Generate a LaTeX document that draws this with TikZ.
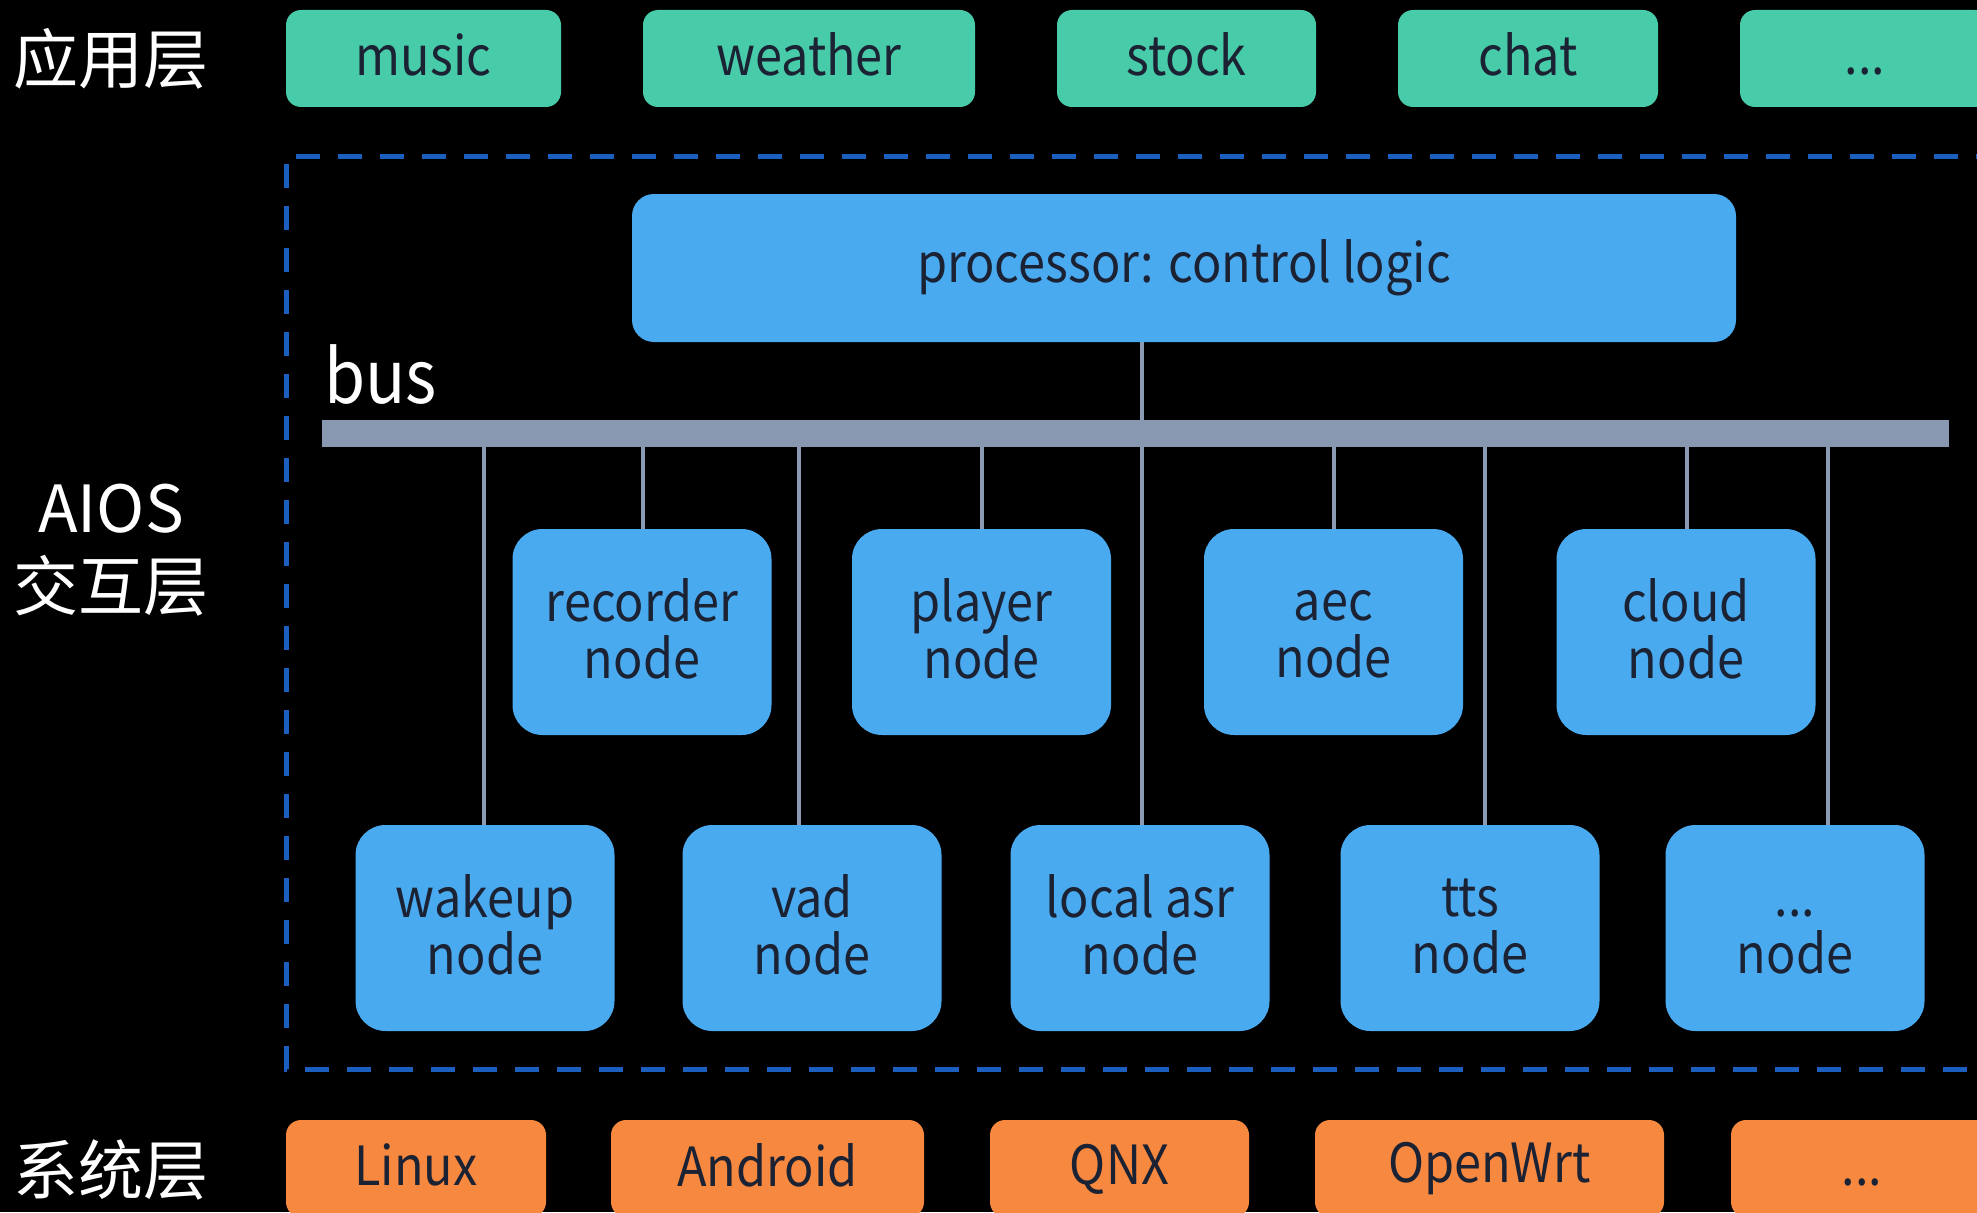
\documentclass[tikz,border=0pt]{standalone}
\usepackage{fontspec}
\setmainfont{Noto Sans CJK SC}
\newfontfamily\latinfont[FakeStretch=0.9]{Noto Sans CJK SC}
\definecolor{appgreen}{HTML}{48CBA8}
\definecolor{nodeblue}{HTML}{4AAAF0}
\definecolor{sysorange}{HTML}{F78840}
\definecolor{txtdark}{HTML}{1B2233}
\definecolor{busgray}{HTML}{8798B0}
\definecolor{linkgray}{HTML}{8B9BB3}
\definecolor{dashblue}{HTML}{1A5FBE}
\newcommand{\bxline}[1]{\rule[-8pt]{0pt}{49pt}#1}
\tikzset{
  x=1pt, y=-1pt,
  boxtext/.style={text=txtdark, font=\latinfont\fontsize{54}{57}\selectfont, align=center, inner sep=0pt},
  appbox/.style={boxtext, fill=appgreen, rounded corners=15pt, minimum height=97pt},
  sysbox/.style={boxtext, fill=sysorange, rounded corners=15pt, minimum height=97pt},
  procbox/.style={boxtext, fill=nodeblue, rounded corners=22pt, minimum height=148pt, minimum width=1104pt},
  modbox/.style={boxtext, fill=nodeblue, rounded corners=30pt, minimum height=206pt, minimum width=259pt},
  layerlabel/.style={text=white, font=\fontsize{65}{78}\selectfont, align=center, inner sep=0pt},
  link/.style={draw=linkgray, line width=4pt},
  frame/.style={draw=dashblue, line width=5pt, dash pattern=on 24pt off 18pt}
}
\begin{document}
\begin{tikzpicture}
\useasboundingbox (0,0) rectangle (1977,1212);
\fill[black] (0,0) rectangle (1977,1212);
\clip (0,0) rectangle (1977,1212);

% layer labels
\node[layerlabel] (lapp) at (111,59) {应用层};
\node[layerlabel] (laios) at (111,550) {AIOS\\交互层};
\node[layerlabel] (lsys) at (111,1170) {系统层};

% application layer
\node[appbox, minimum width=275pt] (music) at (423.5,58.5) {\bxline{music}};
\node[appbox, minimum width=332pt] (weather) at (809,58.5) {\bxline{weather}};
\node[appbox, minimum width=259pt] (stock) at (1186.5,58.5) {\bxline{stock}};
\node[appbox, minimum width=260pt] (chat) at (1528,58.5) {\bxline{chat}};
\node[appbox, minimum width=250pt] (appmore) at (1865,58.5) {\bxline{...}};

% dashed frame
\coordinate (ftr) at (2000,156);
\coordinate (ftl) at (286,156);
\coordinate (fbl) at (286,1069);
\coordinate (fbr) at (2000,1069);
\draw[frame] (ftr) -- (ftl) -- (fbl) -- (fbr);

% processor
\node[procbox] (proc) at (1184,268) {\bxline{processor: control logic}};

% bus
\node[text=white, font=\latinfont\fontsize{74}{78}\selectfont, inner sep=0pt, anchor=base west] (buslabel) at (324,403) {bus};
\node[fill=busgray, minimum width=1627pt, minimum height=27pt, inner sep=0pt] (bus) at (1135.5,433.5) {};

% row 1 nodes
\node[modbox] (recorder) at (642,632) {\bxline{recorder}\\\bxline{node}};
\node[modbox] (player) at (981.5,632) {\bxline{player}\\\bxline{node}};
\node[modbox] (aec) at (1333.5,632) {\bxline{aec}\\\bxline{node}};
\node[modbox] (cloud) at (1686,632) {\bxline{cloud}\\\bxline{node}};

% row 2 nodes
\node[modbox] (wakeup) at (485,928) {\bxline{wakeup}\\\bxline{node}};
\node[modbox] (vad) at (812,928) {\bxline{vad}\\\bxline{node}};
\node[modbox] (lasr) at (1140,928) {\bxline{local asr}\\\bxline{node}};
\node[modbox] (tts) at (1470,928) {\bxline{tts}\\\bxline{node}};
\node[modbox] (nmore) at (1795,928) {\bxline{...}\\\bxline{node}};

% bus taps
\coordinate (tw) at (484,447);
\coordinate (tr) at (643,447);
\coordinate (tv) at (799,447);
\coordinate (tp) at (982,447);
\coordinate (tl) at (1142,447);
\coordinate (ta) at (1334,447);
\coordinate (tt) at (1485,447);
\coordinate (tc) at (1687,447);
\coordinate (tm) at (1828,447);

\draw[link] (tr) -- (tr |- recorder.north);
\draw[link] (tp) -- (tp |- player.north);
\draw[link] (ta) -- (ta |- aec.north);
\draw[link] (tc) -- (tc |- cloud.north);
\draw[link] (tw) -- (tw |- wakeup.north);
\draw[link] (tv) -- (tv |- vad.north);
\draw[link] (tl |- proc.south) -- (tl |- bus.north);
\draw[link] (tl) -- (tl |- lasr.north);
\draw[link] (tt) -- (tt |- tts.north);
\draw[link] (tm) -- (tm |- nmore.north);

% system layer
\node[sysbox, minimum width=260pt] (linux) at (416,1168.5) {\bxline{Linux}};
\node[sysbox, minimum width=313pt] (android) at (767.5,1168.5) {\bxline{Android}};
\node[sysbox, minimum width=259pt] (qnx) at (1119.5,1168.5) {\bxline{QNX}};
\node[sysbox, minimum width=349pt] (openwrt) at (1489.5,1168.5) {\bxline{OpenWrt}};
\node[sysbox, minimum width=262pt] (sysmore) at (1862,1168.5) {\bxline{...}};
\end{tikzpicture}
\end{document}
